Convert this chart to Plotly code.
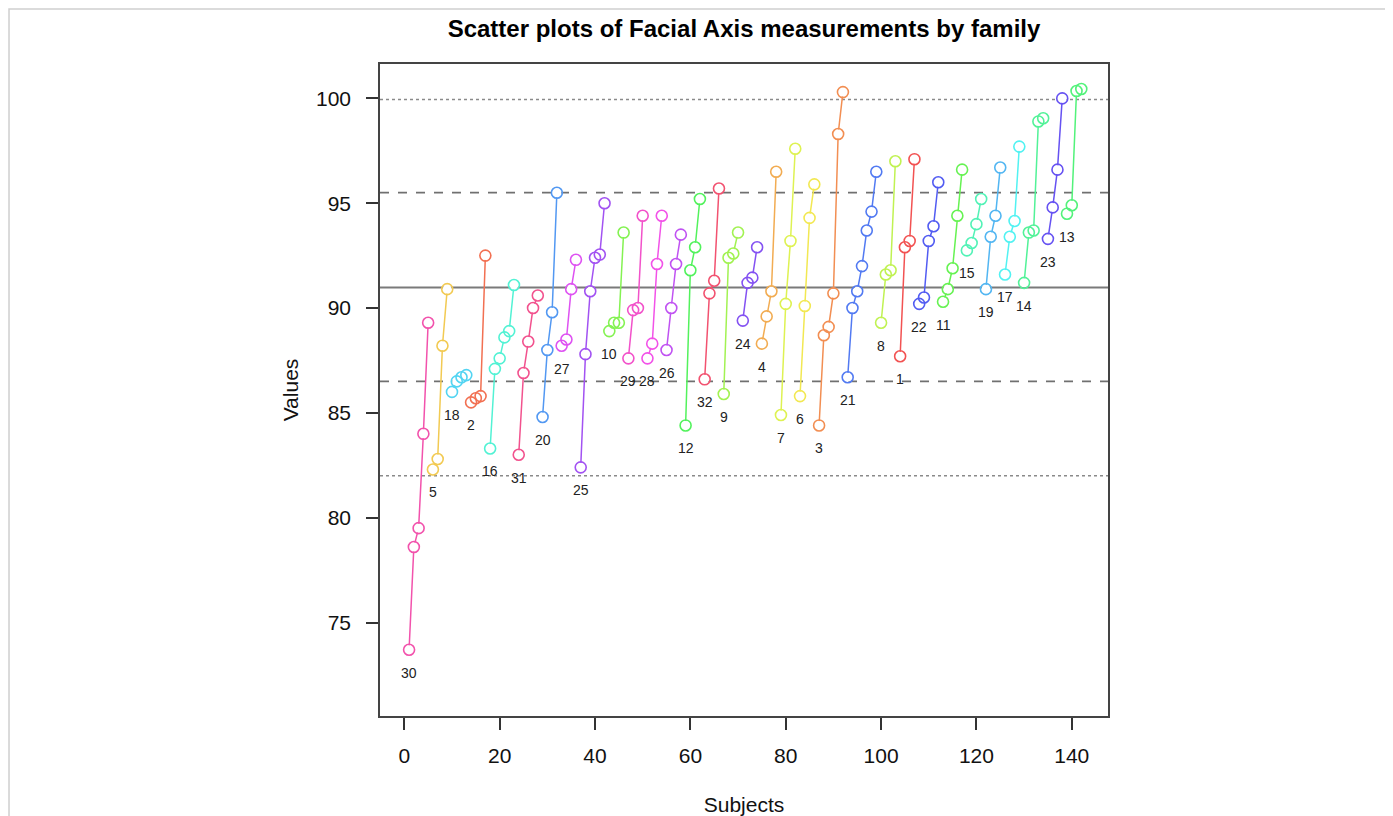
import colorsys
import plotly.graph_objects as go

# ---------------- data ----------------
# family order along the x axis (families sorted by level)
family_order = [30, 5, 18, 2, 16, 31, 20, 27, 25, 10, 29, 28, 26, 12, 32, 9,
                24, 4, 7, 6, 3, 21, 8, 1, 22, 11, 15, 19, 17, 14, 23, 13]

# number of subjects in each family (same order as family_order)
family_sizes = [5, 4, 4, 4, 6, 5, 4, 4, 6, 4, 4, 4, 4, 4, 4, 4,
                4, 4, 4, 4, 6, 7, 4, 4, 5, 5, 4, 4, 4, 5, 4, 4]

# Facial Axis value for each subject (subjects 1..142, sorted within family)
values = [
    73.7, 78.6, 79.5, 84.0, 89.3,            # 30
    82.3, 82.8, 88.2, 90.9,                  # 5
    86.0, 86.5, 86.7, 86.8,                  # 18
    85.5, 85.7, 85.8, 92.5,                  # 2
    83.3, 87.1, 87.6, 88.6, 88.9, 91.1,      # 16
    83.0, 86.9, 88.4, 90.0, 90.6,            # 31
    84.8, 88.0, 89.8, 95.5,                  # 20
    88.2, 88.5, 90.9, 92.3,                  # 27
    82.4, 87.8, 90.8, 92.4, 92.55, 95.0,     # 25
    88.9, 89.3, 89.3, 93.6,                  # 10
    87.6, 89.9, 90.0, 94.4,                  # 29
    87.6, 88.3, 92.1, 94.4,                  # 28
    88.0, 90.0, 92.1, 93.5,                  # 26
    84.4, 91.8, 92.9, 95.2,                  # 12
    86.6, 90.7, 91.3, 95.7,                  # 32
    85.9, 92.4, 92.6, 93.6,                  # 9
    89.4, 91.2, 91.45, 92.9,                 # 24
    88.3, 89.6, 90.8, 96.5,                  # 4
    84.9, 90.2, 93.2, 97.6,                  # 7
    85.8, 90.1, 94.3, 95.9,                  # 6
    84.4, 88.7, 89.1, 90.7, 98.3, 100.3,     # 3
    86.7, 90.0, 90.8, 92.0, 93.7, 94.6, 96.5,  # 21
    89.3, 91.6, 91.8, 97.0,                  # 8
    87.7, 92.9, 93.2, 97.1,                  # 1
    90.2, 90.5, 93.2, 93.9, 96.0,            # 22
    90.3, 90.9, 91.9, 94.4, 96.6,            # 11
    92.75, 93.1, 94.0, 95.2,                 # 15
    90.9, 93.4, 94.4, 96.7,                  # 19
    91.6, 93.4, 94.15, 97.7,                 # 17
    91.2, 93.6, 93.7, 98.9, 99.05,           # 14
    93.3, 94.8, 96.6, 100.0,                 # 23
    94.5, 94.9, 100.35, 100.45,              # 13
]

# reference levels: mean, mean +/- 1 sd, mean +/- 2 sd
ref_mean = 90.98
ref_1sd = [86.5, 95.5]
ref_2sd = [82.0, 99.95]

x_ticks = [0, 20, 40, 60, 80, 100, 120, 140]
y_ticks = [75, 80, 85, 90, 95, 100]

n_families = 32


def family_color(fam):
    r, g, b = colorsys.hsv_to_rgb((fam - 1) / n_families, 0.66, 0.95)
    return "rgb(%d,%d,%d)" % (round(r * 255), round(g * 255), round(b * 255))


FONT = "Liberation Sans, Arial, Helvetica, sans-serif"
W, H = 1385, 808  # page adds an 8px body margin

fig = go.Figure()

# reference lines
for y in ref_2sd:
    fig.add_hline(y=y, line=dict(color="#8a8a8a", width=1.5, dash="dot"), layer="below")
for y in ref_1sd:
    fig.add_hline(y=y, line=dict(color="#707070", width=1.8, dash="dash"), layer="below")
fig.add_hline(y=ref_mean, line=dict(color="#7a7a7a", width=2), layer="below")

# per-family connecting lines
subjects = list(range(1, len(values) + 1))
start = 0
fam_x, fam_y, pt_colors = [], [], []
for fam, size in zip(family_order, family_sizes):
    xs = subjects[start:start + size]
    ys = values[start:start + size]
    col = family_color(fam)
    fig.add_trace(go.Scatter(x=xs, y=ys, mode="lines",
                             line=dict(color=col, width=1.5),
                             hoverinfo="skip", showlegend=False))
    fam_x.append(xs[0])
    fam_y.append(ys[0])
    pt_colors += [col] * size
    start += size

# white interiors so lines do not show inside the circles
fig.add_trace(go.Scatter(x=subjects, y=values, mode="markers",
                         marker=dict(symbol="circle", size=9, color="white",
                                     line=dict(width=0)),
                         hoverinfo="skip", showlegend=False))
# open circles
fig.add_trace(go.Scatter(x=subjects, y=values, mode="markers",
                         marker=dict(symbol="circle-open", size=11, color=pt_colors,
                                     line=dict(width=1.6)),
                         showlegend=False))

# family labels under the lowest point of each family
for fam, xx, yy in zip(family_order, fam_x, fam_y):
    fig.add_annotation(x=xx, y=yy, text=str(fam), showarrow=False,
                       yshift=-23, font=dict(family=FONT, size=14, color="#222"))

# page frame
fig.add_shape(type="rect", xref="paper", yref="paper",
              x0=-0.5096, x1=1.384, y0=-0.2, y1=1.0844,
              line=dict(color="#cfcfcf", width=1.5), fillcolor="rgba(0,0,0,0)",
              layer="below")

fig.update_layout(
    width=W, height=H,
    margin=dict(l=372, r=285, t=56, b=100, autoexpand=False),
    paper_bgcolor="white", plot_bgcolor="white",
    font=dict(family=FONT, size=21, color="#111"),
    title=dict(text="<b>Scatter plots of Facial Axis measurements by family</b>",
               x=0.5, xref="paper", xanchor="center",
               y=1 - 21 / H, yref="container", yanchor="middle",
               font=dict(family=FONT, size=24, color="#000")),
    showlegend=False,
)
fig.update_xaxes(range=[-5.1, 147.6], tickvals=x_ticks, ticks="outside", ticklen=12,
                 tickwidth=1.5, tickcolor="#333", showgrid=False, zeroline=False,
                 showline=True, linecolor="#444", linewidth=1.6, mirror=True,
                 tickfont=dict(size=21), ticklabelstandoff=8, automargin=False,
                 title=dict(text="Subjects", standoff=32, font=dict(size=21)))
fig.update_yaxes(range=[70.54, 101.64], tickvals=y_ticks, ticks="outside", ticklen=12,
                 tickwidth=1.5, tickcolor="#333", showgrid=False, zeroline=False,
                 showline=True, linecolor="#444", linewidth=1.6, mirror=True,
                 tickfont=dict(size=21), ticklabelstandoff=11, automargin=False,
                 title=dict(text="Values", standoff=12, font=dict(size=21)))

fig.write_html("out.html")
